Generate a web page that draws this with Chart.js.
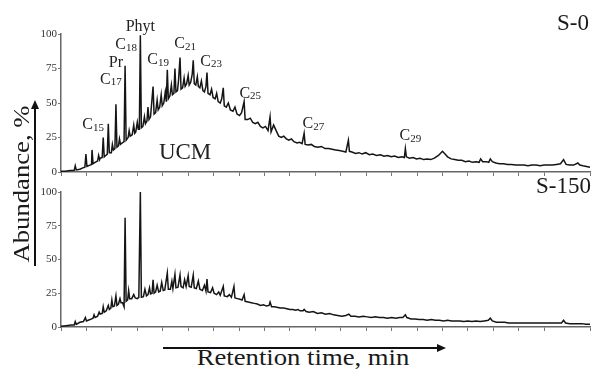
<!DOCTYPE html>
<html>
<head>
<meta charset="utf-8">
<script src="https://cdn.jsdelivr.net/npm/chart.js@4.4.0/dist/chart.umd.min.js"></script>
<style>
  body { margin: 0; background: #fff; }
  #wrap { position: relative; width: 597px; height: 372px; overflow: hidden; font-family: "Liberation Serif", "DejaVu Serif", serif; color: #222; }
  canvas { position: absolute; left: 0; }
  .panel { position: absolute; font-size: 23px; color: #1a1a1a; }
  #ylab { position: absolute; left: 22px; top: 184px; transform: translate(-50%, -50%) rotate(-90deg) scaleX(1.16); font-size: 23px; white-space: nowrap; color: #1a1a1a; }
  #xlab { position: absolute; left: 303px; top: 345px; transform: translateX(-50%) scaleX(1.16); font-size: 23px; white-space: nowrap; color: #1a1a1a; }
  .ln { position: absolute; background: #111; }
</style>
</head>
<body>
<div id="wrap">
  <canvas id="topChart" width="597" height="186" style="top:0"></canvas>
  <canvas id="botChart" width="597" height="165" style="top:178px"></canvas>
  <div class="panel" style="right:8px; top:10px">S-0</div>
  <div class="panel" style="right:6px; top:173px">S-150</div>
  <div id="ylab">Abundance, %</div>
  <div class="ln" style="left:34px; top:108px; width:1.5px; height:158px"></div>
  <div style="position:absolute; left:31px; top:100px; width:0; height:0; border-left:4px solid transparent; border-right:4px solid transparent; border-bottom:9px solid #111"></div>
  <div id="xlab">Retention time, min</div>
  <div class="ln" style="left:163px; top:347px; width:276px; height:1.5px"></div>
  <div style="position:absolute; left:437px; top:344px; width:0; height:0; border-top:4px solid transparent; border-bottom:4px solid transparent; border-left:9px solid #111"></div>
</div>
<script>
// S-0 chromatogram (retention in arbitrary units, abundance %)
const timeS0 = [
  0, 0.8, 1.8, 2.6, 2.8, 3.0, 3.7, 4.3, 4.7, 4.9, 5.1, 5.7, 6.0, 6.1, 6.3, 6.7, 7.2, 7.4, 7.6, 7.7,
  8.1, 8.3, 8.5, 8.8, 9.1, 9.3, 9.5, 9.9, 10.1, 10.3, 10.6, 10.8, 11.0, 11.3, 11.5, 11.7, 12.0,
  12.4, 12.6, 12.8, 13.2, 13.4, 13.6, 14.0, 14.3, 14.5, 14.7, 15.0, 15.2, 15.4, 15.6, 15.8,
  16.1, 16.4, 16.6, 16.9, 17.1, 17.3, 17.6, 18.1, 18.3, 18.6, 18.9, 19.1, 19.4, 19.7, 19.9,
  20.2, 20.5, 20.7, 20.9, 21.1, 21.4, 21.7, 21.9, 22.2, 22.4, 22.6, 22.9, 23.1, 23.4, 23.6,
  23.9, 24.2, 24.4, 24.7, 25.0, 25.2, 25.5, 25.8, 26.0, 26.2, 26.5, 26.8, 27.0, 27.3, 27.6, 27.9,
  28.2, 28.5, 28.7, 28.9, 29.3, 29.6, 29.9, 30.3, 30.6, 30.9, 31.3, 31.6, 31.9, 32.1,
  32.5, 32.9, 33.3, 33.8, 34.2, 34.6, 35.1, 35.5, 36.0, 36.2, 36.7, 37.2, 37.7, 38.2, 38.7, 39.2,
  39.7, 40.2, 40.7, 41.1, 41.3, 41.8, 42.3, 42.8, 43.3, 43.8, 44.3, 44.8, 45.3, 45.8,
  46.4, 46.9, 47.4, 47.8, 48.0, 48.6, 49.2, 49.8, 50.5, 51.2, 51.9, 52.6, 53.3, 54.0,
  54.7, 55.4, 56.0, 56.5, 56.7, 57.2, 57.9, 58.6, 59.2, 59.9, 60.6, 61.3, 62.0, 62.8, 63.5,
  64.2, 64.9, 65.6, 66.3, 67.0, 67.5, 67.7, 67.9, 68.5, 69.2, 69.9, 70.6, 71.3, 72.0,
  72.7, 73.4, 74.2, 75.0, 75.5, 76.0, 76.7, 77.4, 78.1, 78.8, 79.5, 80.2, 80.9, 81.6, 82.2,
  82.5, 82.9, 83.6, 84.1, 84.4, 84.8, 85.5, 86.2, 87.0, 87.8, 88.6, 89.4, 90.2, 91.0, 91.8,
  92.6, 93.4, 94.2, 95.0, 95.8, 96.6, 97.4, 98.2, 98.8, 99.3, 100.0, 100.8, 101.6, 102.0,
  102.6, 103.3, 104.0
];
const abundS0 = [
  0.5, 0.6, 1.0, 1.2, 4.5, 1.5, 2, 3, 3.5, 13, 4, 5, 5.5, 16, 6, 7, 8, 12, 9, 10,
  10.5, 25, 11, 12, 13, 35, 14, 14, 20, 16, 17, 49, 18, 19, 24, 20, 21,
  22, 77, 23, 25, 30, 26, 27, 34, 28, 29, 36, 31, 31, 99, 32,
  33, 40, 35, 37, 47, 38, 40, 62, 42, 43, 52, 45, 47, 56, 48,
  50, 58, 51, 74, 53, 55, 63, 56, 57, 75, 58, 59, 66, 83, 60,
  61, 68, 62, 64, 70, 63, 65, 71, 81, 64, 63, 69, 62, 61, 66, 59,
  58, 62, 72, 57, 56, 60, 54, 53, 57, 51, 50, 53, 61, 48,
  47, 50, 45, 44, 47, 42, 41, 43, 51, 38, 38, 39, 36, 35, 36, 33,
  32, 33, 30, 40, 29, 34, 30, 26, 25, 26, 24, 23, 24, 22,
  21, 21.5, 20.5, 28, 20, 19.5, 20, 18.5, 18, 18.5, 17, 17, 16.5, 16,
  15.5, 15, 14.5, 23, 15, 14.5, 13.5, 14, 13, 14, 12.5, 13, 12, 12.5, 11.5,
  12, 11, 11.5, 10.5, 11, 10.5, 17, 11, 10, 10.5, 9.5, 10, 9, 9.5,
  9, 10, 12, 15, 13, 11, 9.5, 9, 8.5, 8.5, 7.5, 8, 7, 7.5, 7,
  9.5, 7.5, 7.5, 7, 9.5, 7.5, 6.5, 6, 6, 5.5, 5.5, 5, 5, 5, 4.5,
  5, 5, 4.5, 5, 5, 5, 5.5, 6, 9, 5.5, 5, 5, 6.5, 5,
  4.5, 4, 3.5
];

// S-150 chromatogram
const timeS150 = [
  0, 1.0, 2.0, 2.6, 2.8, 3.0, 3.7, 4.4, 4.8, 5.0, 5.7, 6.3, 6.5, 6.7, 7.2, 7.5, 7.7,
  8.1, 8.3, 8.5, 8.9, 9.3, 9.5, 9.8, 10.0, 10.2, 10.5, 10.8, 11.0, 11.3, 11.6, 11.8,
  12.1, 12.4, 12.6, 12.8, 13.1, 13.3, 13.5, 13.9, 14.3, 14.6, 15.0, 15.3, 15.6, 15.8,
  16.2, 16.5, 16.8, 17.1, 17.4, 17.6, 17.9, 18.1, 18.3, 18.6, 18.9, 19.2, 19.5, 19.8, 20.1,
  20.4, 20.9, 21.1, 21.5, 21.8, 22.0, 22.4, 22.6, 23.0, 23.4, 23.6, 24.0, 24.3, 24.6, 25.0, 25.2,
  25.6, 26.0, 26.2, 26.6, 27.0, 27.3, 27.8, 28.2, 28.5, 28.7, 28.9, 29.4, 29.8, 30.1,
  30.6, 31.0, 31.3, 31.9, 32.1, 32.7, 33.1, 33.5, 34.0, 34.2, 34.7, 35.2, 35.6, 36.0, 36.2,
  36.8, 37.4, 38.0, 38.6, 39.2, 39.8, 40.4, 40.9, 41.1, 41.4, 42.0, 42.6, 43.2,
  43.8, 44.4, 45.0, 45.6, 46.1, 46.6, 47.0, 47.6, 47.8, 48.2, 48.8, 49.6, 50.4,
  51.2, 52.0, 52.8, 53.6, 54.4, 55.2, 56.0, 56.6, 57.0, 57.8, 58.6, 59.4, 60.2, 61.0, 61.8,
  62.6, 63.4, 64.2, 65.0, 65.8, 66.6, 67.2, 67.7, 68.0, 68.8, 69.6, 70.4, 71.2, 72.0, 72.8,
  73.6, 74.4, 75.2, 76.0, 76.8, 77.6, 78.4, 79.2, 80.0, 80.8, 81.6, 82.4, 83.2, 84.0, 84.4, 84.8,
  85.6, 86.4, 87.2, 88.0, 88.8, 89.6, 90.4, 91.2, 92.0, 92.8, 93.6, 94.4, 95.2, 96.0, 96.8,
  97.6, 98.4, 98.8, 99.2, 100.0, 100.8, 101.6, 102.4, 103.2, 104.0
];
const abundS150 = [
  0.5, 1, 1.5, 1.5, 4, 2, 3.5, 4, 7, 4.5, 5.5, 6.5, 9, 7, 8, 11, 9.5,
  10, 15, 11, 12, 16, 13, 14, 20, 15, 15.5, 23, 16, 17, 21, 18,
  18, 15, 81, 19, 20, 27, 21, 21, 24, 21.5, 21, 22, 100, 22,
  22.5, 28, 23, 24, 29, 24.5, 25, 35, 25, 26, 31, 26, 26.5, 33, 27,
  27.5, 40, 28, 28, 34, 28.5, 39, 29, 29.5, 38.5, 30, 29, 35, 30, 38, 30,
  29.5, 38.5, 29, 28.5, 34, 28, 27, 31, 26.5, 35.5, 26, 25.5, 29, 25,
  24, 26, 23.5, 30, 23, 22.5, 24, 22, 30, 21.5, 21, 20.5, 20, 24, 19,
  18.5, 18, 17.5, 17, 16, 16.5, 15.5, 16, 18.5, 15, 15, 14.5, 14,
  14, 13.5, 13, 13, 12.5, 13, 12, 12, 13, 11.5, 11, 11.5, 10,
  10.5, 9.5, 10, 9, 8.5, 8, 8.5, 9.5, 8, 8, 7.5, 8, 7.5, 7, 7.5,
  7, 7, 6.5, 7, 6.5, 7, 7, 9, 7, 6, 6, 5.5, 5.5, 5, 5.5,
  5, 5, 4.5, 5, 4.5, 4.5, 4.5, 4, 4.5, 4, 4.5, 4, 4.5, 5, 6.5, 4.5,
  3.5, 3.5, 3.5, 3, 3, 3, 3, 3, 3, 3, 3, 3, 3, 3, 3,
  3, 3, 5, 3, 2.5, 2.5, 2.5, 2.5, 2, 2
];

// peak labels for S-0
const peakNames = ["C15", "C17", "Pr", "C18", "Phyt", "C19", "C21", "C23", "C25", "C27", "C29", "UCM"];
const peakLabelX = [6.3, 9.8, 10.8, 12.8, 15.6, 19.1, 24.4, 29.5, 37.2, 49.6, 68.7, 24.4];
const peakLabelY = [34, 67, 79, 92, 105, 81, 93, 80, 57, 35, 26, 14];

const yTicks = [0, 25, 50, 75, 100];
const xMax = 104;

const serif = "'Liberation Serif', 'DejaVu Serif', serif";

const peakLabelsPlugin = {
  id: "peakLabels",
  afterDatasetsDraw(chart) {
    const ctx = chart.ctx;
    const xs = chart.scales.x;
    const ys = chart.scales.y;
    ctx.save();
    ctx.fillStyle = "#222";
    ctx.textBaseline = "middle";
    peakNames.forEach((name, i) => {
      const px = xs.getPixelForValue(peakLabelX[i]);
      const py = ys.getPixelForValue(peakLabelY[i]);
      if (name === "UCM") {
        ctx.font = "23px " + serif;
        ctx.textAlign = "center";
        ctx.fillText(name, px, py);
        return;
      }
      const m = name.match(/^C(\d+)$/);
      if (m) {
        ctx.font = "16px " + serif;
        const wC = ctx.measureText("C").width;
        ctx.font = "11px " + serif;
        const wN = ctx.measureText(m[1]).width;
        const left = px - (wC + wN) / 2;
        ctx.textAlign = "left";
        ctx.font = "16px " + serif;
        ctx.fillText("C", left, py);
        ctx.font = "11px " + serif;
        ctx.fillText(m[1], left + wC, py + 3);
      } else {
        ctx.font = "16px " + serif;
        ctx.textAlign = "center";
        ctx.fillText(name, px, py);
      }
    });
    ctx.restore();
  },
};

function makeChart(id, times, values, xAxisHeight, padTop, plugins) {
  const ctx = document.getElementById(id);
  return new Chart(ctx, {
    type: "line",
    data: {
      datasets: [
        {
          data: times.map((t, i) => ({ x: t, y: values[i] })),
          borderColor: "#151515",
          borderWidth: 1.5,
          pointRadius: 0,
          tension: 0,
          fill: false,
          clip: false,
        },
      ],
    },
    options: {
      responsive: false,
      animation: false,
      devicePixelRatio: 1,
      layout: { padding: { left: 30, right: 7, top: padTop, bottom: 0 } },
      scales: {
        x: {
          type: "linear",
          min: 0,
          max: xMax,
          ticks: { stepSize: 5, autoSkip: false, callback: () => "" },
          grid: { drawOnChartArea: false, drawTicks: true, tickLength: 4, color: "#777" },
          border: { display: true, color: "#666", width: 1.5 },
          afterFit: (scale) => { scale.height = xAxisHeight; },
        },
        y: {
          min: 0,
          max: 100,
          afterBuildTicks: (scale) => { scale.ticks = yTicks.map((v) => ({ value: v })); },
          ticks: {
            color: "#333",
            font: { family: serif, size: 11 },
            padding: 1,
          },
          grid: { drawOnChartArea: false, drawTicks: true, tickLength: 3, color: "#777" },
          border: { display: true, color: "#666", width: 1.5 },
          afterFit: (scale) => { scale.width = 31; },
        },
      },
      plugins: {
        legend: { display: false },
        tooltip: { enabled: false },
      },
    },
    plugins: plugins,
  });
}

makeChart("topChart", timeS0, abundS0, 14, 34, [peakLabelsPlugin]);
makeChart("botChart", timeS150, abundS150, 16, 14, []);
</script>
</body>
</html>
